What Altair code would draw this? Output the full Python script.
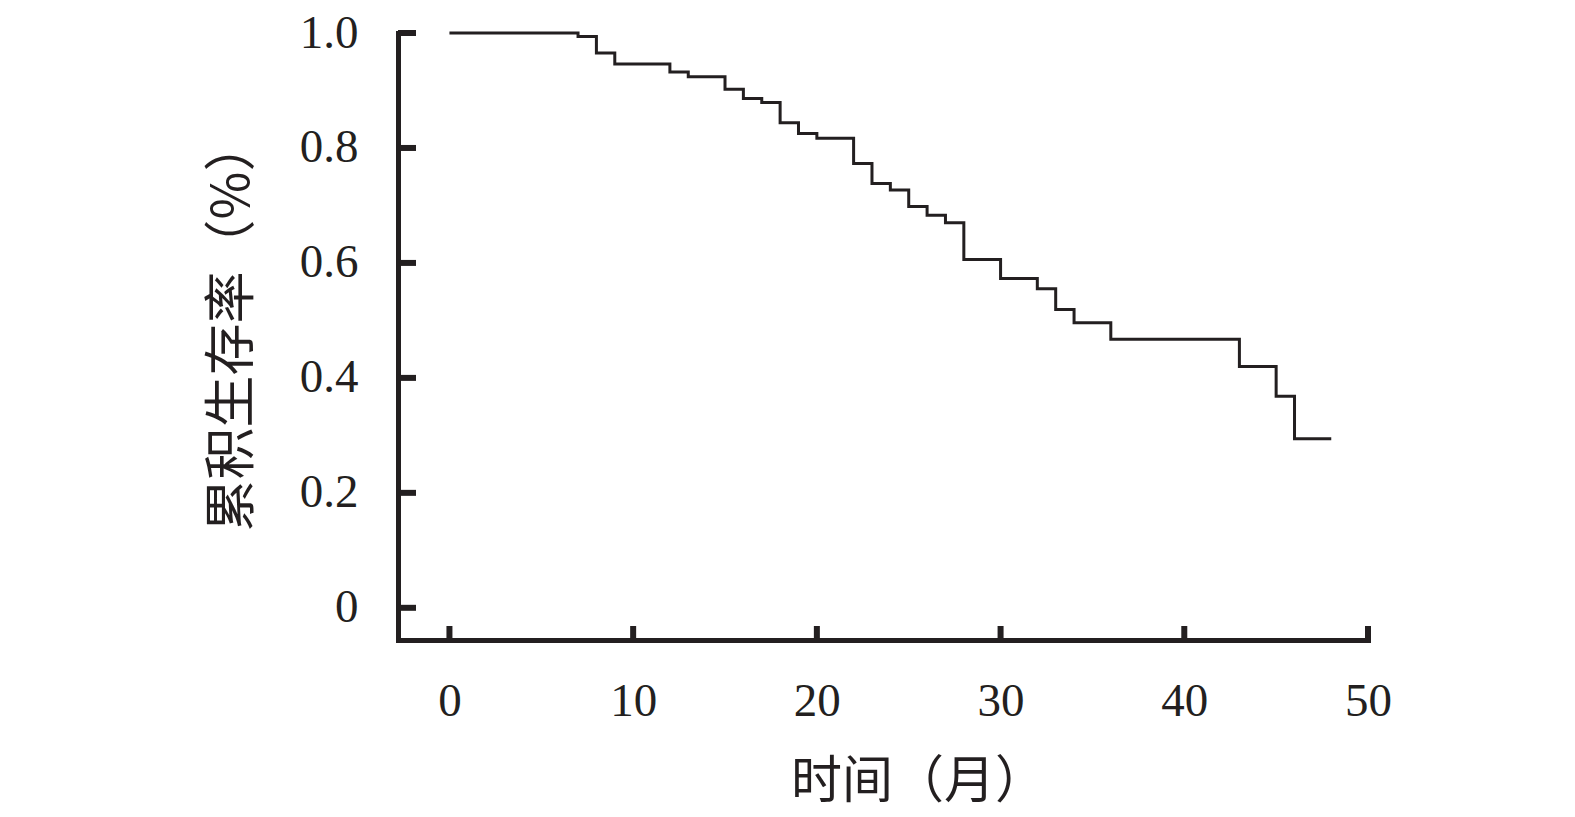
import altair as alt
import pandas as pd

months = [0, 7, 8, 9, 12, 13, 15, 16, 17, 18, 19, 20, 22, 23, 24, 25, 26, 27, 28,
          30, 32, 33, 34, 36, 43, 45, 46, 48]
survival = [1.0, 0.994, 0.965, 0.946, 0.932, 0.924, 0.902, 0.886, 0.879, 0.844,
            0.825, 0.817, 0.773, 0.738, 0.727, 0.698, 0.683, 0.670, 0.606, 0.573,
            0.555, 0.519, 0.496, 0.467, 0.420, 0.368, 0.294, 0.294]
x_ticks = [0, 10, 20, 30, 40, 50]
y_ticks = [0, 0.2, 0.4, 0.6, 0.8, 1.0]

x_title = "时间（月）"
y_title = "累积生存率（%）"

INK = "#231f20"
W, H = 970, 607

curve = pd.DataFrame({"month": months, "surv": survival})
xt = pd.DataFrame({"month": x_ticks})
yt = pd.DataFrame({"surv": y_ticks})

xscale = alt.Scale(domain=[-2.8, 50], nice=False, zero=False)
yscale = alt.Scale(domain=[-0.056, 1.0], nice=False, zero=False)

x_axis = alt.Axis(values=x_ticks, ticks=False, tickSize=0, grid=False,
                  domainColor=INK, domainWidth=5, domainCap="square",
                  labelFont="Liberation Serif", labelFontSize=47, labelColor=INK,
                  labelPadding=38, labelFlush=False,
                  title=x_title, titleFont="Noto Sans CJK SC", titleFontSize=51,
                  titleFontWeight="normal", titleColor=INK, titlePadding=33,
                  titleX=520)
y_axis = alt.Axis(values=y_ticks, ticks=False, tickSize=0, grid=False,
                  domainColor=INK, domainWidth=5, domainCap="square",
                  labelFont="Liberation Serif", labelFontSize=47, labelColor=INK,
                  labelPadding=40, labelFlush=False,
                  labelExpr="datum.value == 0 ? '0' : format(datum.value, '.1f')",
                  title=y_title, titleFont="Noto Sans CJK SC", titleFontSize=52,
                  titleFontWeight="normal", titleColor=INK, titlePadding=40,
                  titleY=292)

line = alt.Chart(curve).mark_line(interpolate="step-after", color=INK, strokeWidth=3).encode(
    x=alt.X("month:Q", scale=xscale, axis=x_axis),
    y=alt.Y("surv:Q", scale=yscale, axis=y_axis),
)

xtick = alt.Chart(xt).mark_rule(color=INK, strokeWidth=6).encode(
    x=alt.X("month:Q", scale=xscale, axis=x_axis),
    y=alt.value(H),
    y2=alt.value(H - 14),
)

ytick = alt.Chart(yt).mark_rule(color=INK, strokeWidth=6).encode(
    y=alt.Y("surv:Q", scale=yscale, axis=y_axis),
    x=alt.value(0),
    x2=alt.value(18),
)

chart = alt.layer(line, xtick, ytick).properties(
    width=W, height=H,
    background="white",
    autosize=alt.AutoSizeParams(type="none"),
    padding={"left": 390, "top": 25, "right": 180, "bottom": 185},
).configure_view(stroke=None)

chart.save("out.html", embed_options={"renderer": "svg", "actions": False})
